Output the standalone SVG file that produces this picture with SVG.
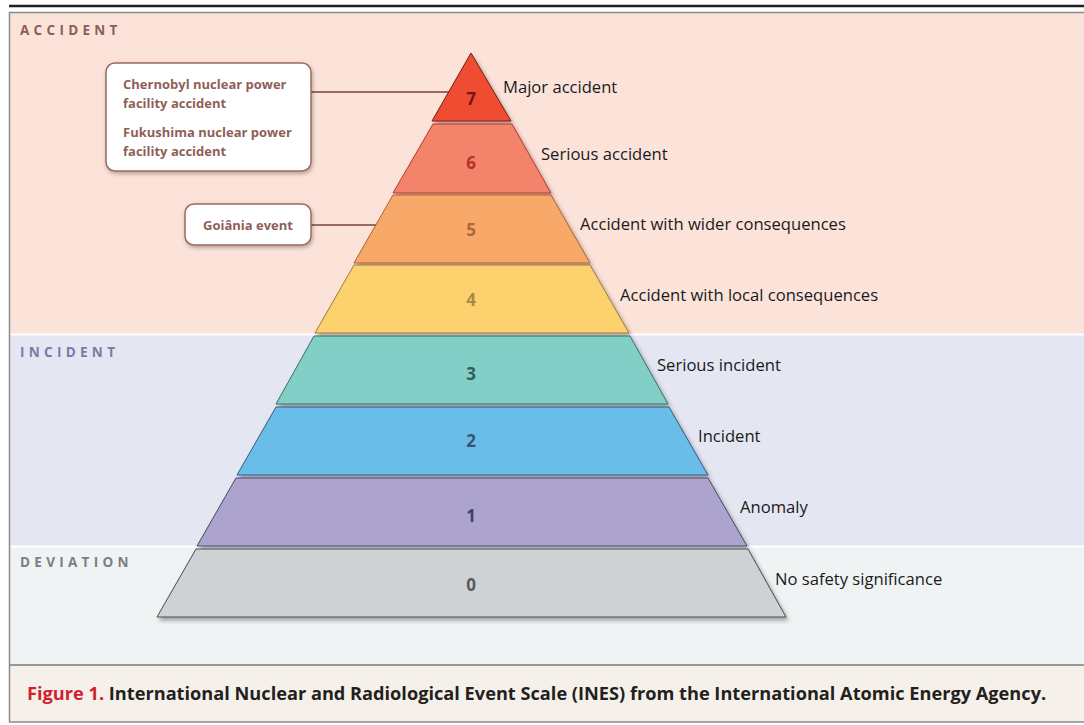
<svg xmlns="http://www.w3.org/2000/svg" width="1084" height="725" viewBox="0 0 1084 725">
<defs>
<filter id="sh" x="-10%" y="-10%" width="130%" height="140%">
<feDropShadow dx="2" dy="3" stdDeviation="2" flood-color="#000" flood-opacity="0.35"/>
</filter>
<filter id="shb" x="-10%" y="-10%" width="130%" height="140%">
<feDropShadow dx="1" dy="2" stdDeviation="2" flood-color="#000" flood-opacity="0.3"/>
</filter>
</defs>
<style>
.lbl{font-family:"Open Sans","Noto Sans",sans-serif;font-size:16.6px;fill:#1a1a1a;dominant-baseline:central}
.num{font-family:"Open Sans","Noto Sans",sans-serif;font-size:17px;font-weight:bold;text-anchor:middle;dominant-baseline:central}
.band{font-family:"Open Sans","Noto Sans",sans-serif;font-size:13.5px;font-weight:bold;letter-spacing:4.3px;dominant-baseline:central}
.box{fill:#fff;stroke:#9a6a62;stroke-width:1.5;filter:url(#shb)}
.btxt{font-family:"Open Sans","Noto Sans",sans-serif;font-size:13px;font-weight:bold;fill:#8e5f58;dominant-baseline:central}
.conn{stroke:#9a6a62;stroke-width:2;fill:none}
.cap{font-family:"Open Sans","Noto Sans",sans-serif;font-size:18.2px;font-weight:bold;dominant-baseline:central}
</style>
<rect x="0" y="0" width="1084" height="725" fill="#fff"/>
<line x1="9" y1="6" x2="1084" y2="6" stroke="#231f20" stroke-width="2.5"/>
<g id="bands">
<rect x="10" y="13" width="1074" height="321" fill="#fce3da"/>
<rect x="10" y="335" width="1074" height="211" fill="#e4e6f2"/>
<rect x="10" y="547" width="1074" height="118" fill="#f0f3f4"/>
<rect x="10" y="665" width="1074" height="57" fill="#f5f1ea"/>
<line x1="10" y1="334.5" x2="1084" y2="334.5" stroke="#fff" stroke-width="2"/>
<line x1="10" y1="546.5" x2="1084" y2="546.5" stroke="#fff" stroke-width="2"/>
<line x1="10" y1="665" x2="1084" y2="665" stroke="#7a7a7a" stroke-width="1.5"/>
<path d="M1084,12.5 H9.5 V722 H1084" fill="none" stroke="#8a8a8a" stroke-width="1.5"/>
<text class="band" x="20" y="30" fill="#8b5e5a">ACCIDENT</text>
<text class="band" x="20" y="352" fill="#7a7ba8">INCIDENT</text>
<text class="band" x="20" y="562" fill="#7b7e82">DEVIATION</text>
</g>
<g id="connectors">
<line class="conn" x1="311" y1="92" x2="451" y2="92"/>
<line class="conn" x1="311" y1="225" x2="377" y2="225"/>
</g>
<g id="level7"><polygon points="471,53 511,121 432,121" fill="#ee4e32" stroke="#7a1a10" stroke-width="1" filter="url(#sh)"/><text class="num" x="471" y="98" fill="#6e1a12">7</text><text class="lbl" x="503" y="86">Major accident</text></g>
<g id="level6"><polygon points="433,124 512,124 551,193 393,193" fill="#f4836c" stroke="#b8362a" stroke-width="1" filter="url(#sh)"/><text class="num" x="471" y="162" fill="#b43224">6</text><text class="lbl" x="541" y="153">Serious accident</text></g>
<g id="level5"><polygon points="393,195 551,195 590,263 354,263" fill="#f8a96b" stroke="#b0622c" stroke-width="1" filter="url(#sh)"/><text class="num" x="471" y="229" fill="#b0683a">5</text><text class="lbl" x="580" y="223">Accident with wider consequences</text></g>
<g id="level4"><polygon points="354,265 590,265 629,333 315,333" fill="#fdd26e" stroke="#9c7a3c" stroke-width="1" filter="url(#sh)"/><text class="num" x="471" y="299" fill="#a88a4a">4</text><text class="lbl" x="620" y="294">Accident with local consequences</text></g>
<g id="level3"><polygon points="314,336 630,336 668,404 276,404" fill="#82cfc7" stroke="#36716a" stroke-width="1" filter="url(#sh)"/><text class="num" x="471" y="373" fill="#2e5e5a">3</text><text class="lbl" x="657" y="364">Serious incident</text></g>
<g id="level2"><polygon points="276,407 669,407 708,475 237,475" fill="#67bde9" stroke="#3a5a7c" stroke-width="1" filter="url(#sh)"/><text class="num" x="471" y="440" fill="#3c5278">2</text><text class="lbl" x="698" y="435">Incident</text></g>
<g id="level1"><polygon points="236,478 708,478 747,546 197,546" fill="#ada3cf" stroke="#4a4668" stroke-width="1" filter="url(#sh)"/><text class="num" x="471" y="515" fill="#45405f">1</text><text class="lbl" x="740" y="506">Anomaly</text></g>
<g id="level0"><polygon points="196,549 748,549 786,617 157,617" fill="#cfd2d4" stroke="#4a4a4a" stroke-width="1" filter="url(#sh)"/><text class="num" x="471" y="584" fill="#5a5a5a">0</text><text class="lbl" x="775" y="578">No safety significance</text></g>
<g id="chernobyl">
<rect class="box" x="106" y="63" width="205" height="108" rx="9"/>
<text class="btxt" x="123" y="84">Chernobyl nuclear power</text>
<text class="btxt" x="123" y="103">facility accident</text>
<text class="btxt" x="123" y="132">Fukushima nuclear power</text>
<text class="btxt" x="123" y="151">facility accident</text>
</g>
<g id="goiania">
<rect class="box" x="185" y="204" width="126" height="41" rx="9"/>
<text class="btxt" x="248" y="225" text-anchor="middle">Goiânia event</text>
</g>
<g id="caption">
<text class="cap" x="27" y="693"><tspan fill="#d21f2f">Figure 1.</tspan><tspan fill="#231f20"> International Nuclear and Radiological Event Scale (INES) from the International Atomic Energy Agency.</tspan></text>
</g>
</svg>
